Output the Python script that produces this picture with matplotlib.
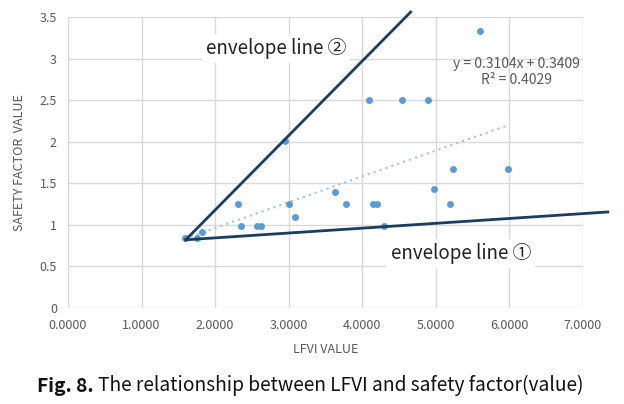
import numpy as np
import matplotlib.pyplot as plt

# dados
lfvi = [1.59, 1.75, 1.82, 2.31, 2.35, 2.57, 2.62, 2.95, 3.00, 3.08, 3.63, 3.78,
        4.09, 4.15, 4.20, 4.29, 4.54, 4.89, 4.97, 5.20, 5.24, 5.60, 5.98]
fs = [0.84, 0.84, 0.91, 1.25, 0.99, 0.99, 0.99, 2.01, 1.25, 1.10, 1.39, 1.25,
      2.50, 1.25, 1.25, 0.99, 2.50, 2.50, 1.43, 1.25, 1.67, 3.33, 1.67]

# tendencia linear (Excel)
coef_a = 0.3104
coef_b = 0.3409
trend_x = [1.59, 5.98]

# linhas envoltorias
env2_x = [1.60, 4.66]
env2_y = [0.82, 3.56]
env1_x = [1.60, 7.34]
env1_y = [0.82, 1.155]

xticks = [0, 1, 2, 3, 4, 5, 6, 7]
yticks = [0, 0.5, 1, 1.5, 2, 2.5, 3, 3.5]

fam = ['Noto Sans CJK KR', 'DejaVu Sans']
plt.rcParams['font.family'] = fam
cinza = '#595959'

fig = plt.figure(figsize=(6.24, 4.04), dpi=100)
ax = fig.add_axes([0.109, 0.2376, 0.825, 0.7204])

ax.grid(True, color='#d9d9d9', linewidth=1)
ax.set_axisbelow(True)
for s in ax.spines.values():
    s.set_visible(False)

ty = [coef_a * x + coef_b for x in trend_x]
ax.plot(trend_x, ty, linestyle=(0, (1, 2)), color='#9dc3e6', linewidth=1.5)

ax.plot(lfvi, fs, 'o', color='#5b9bd5', markersize=5, markeredgewidth=0, zorder=3)

ax.plot(env2_x, env2_y, '-', color='#1d3d60', linewidth=2, clip_on=False, zorder=4)
ax.plot(env1_x, env1_y, '-', color='#1d3d60', linewidth=2, clip_on=False, zorder=4)

ax.set_xlim(0, 7)
ax.set_ylim(0, 3.5)
ax.set_xticks(xticks)
ax.set_xticklabels(['%.4f' % v for v in xticks])
ax.set_yticks(yticks)
ax.set_yticklabels(['%g' % v for v in yticks])
ax.tick_params(length=0, labelsize=9, colors=cinza, pad=8)

ax.set_xlabel('LFVI VALUE', fontsize=9, color=cinza, labelpad=8)
ax.set_ylabel('SAFETY FACTOR  VALUE', fontsize=9, color=cinza, labelpad=10)

ax.text(2.83, 3.12, 'envelope line ②', fontsize=13.5, ha='center', va='center', color='#222222',
        family=fam, bbox=dict(facecolor='white', edgecolor='none', pad=3))
ax.text(5.34, 0.66, 'envelope line ①', fontsize=13.5, ha='center', va='center', color='#222222',
        family=fam, bbox=dict(facecolor='white', edgecolor='none', pad=3))
ax.text(6.1, 2.84, 'y = 0.3104x + 0.3409\nR² = 0.4029', fontsize=10, ha='center', va='center',
        color=cinza, linespacing=1.2)

t1 = fig.text(0.06, 0.03, 'Fig. 8.', fontsize=13.8, fontweight='bold', color='#111111')
ax.annotate('The relationship between LFVI and safety factor(value)', xy=(1, 0), xycoords=t1,
            xytext=(3, 0), textcoords='offset points', fontsize=13.8, color='#111111',
            ha='left', va='bottom', annotation_clip=False)

fig.savefig('out.png', dpi=100)
